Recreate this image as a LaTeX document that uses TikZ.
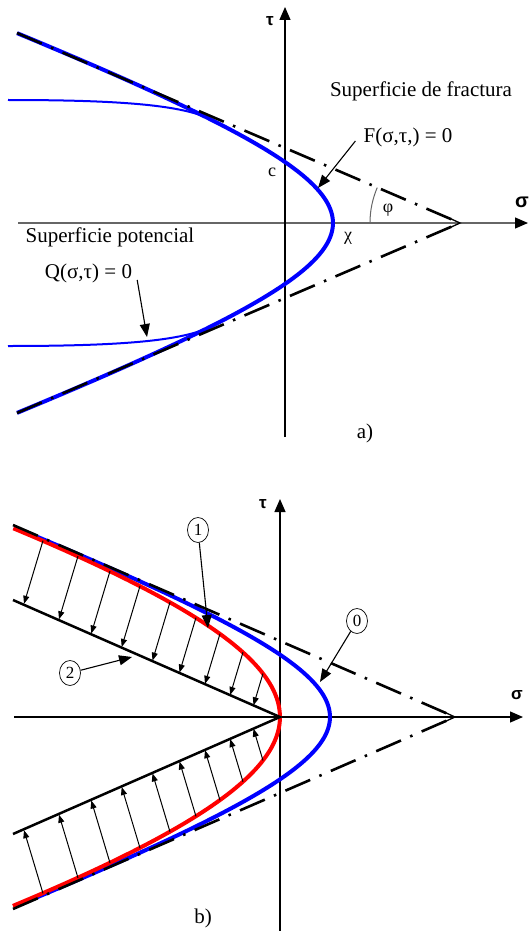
\documentclass[tikz,border=0pt]{standalone}
\usepackage{fontspec}
\setmainfont{Liberation Serif}
\newfontfamily\lsans{Liberation Sans}
\usetikzlibrary{arrows.meta,shapes.geometric}
\begin{document}
\begin{tikzpicture}[x=1pt,y=-1pt,
  txt/.style={inner sep=0pt, font=\fontsize{21}{24}\selectfont},
  sml/.style={inner sep=0pt, font=\fontsize{18}{20}\selectfont},
  axl/.style={inner sep=0pt, font=\lsans\bfseries\fontsize{17}{20}\selectfont},
  axisline/.style={line width=1.2pt, -{Triangle[length=13pt,width=11pt,color=black]}},
  dashdot/.style={line width=2.6pt, dash pattern=on 27pt off 10pt on 2.5pt off 10pt},
  fcurve/.style={blue, line width=4pt},
  qcurve/.style={blue, line width=2pt},
  rcurve/.style={red, line width=4pt},
  ptr/.style={line width=1.1pt, -{Triangle[length=13pt,width=10pt]}},
  smallarr/.style={line width=1pt, -{Triangle[length=8pt,width=6pt]}},
  circ/.style={draw, ellipse, line width=0.7pt, minimum width=21pt, minimum height=25pt, inner sep=0pt, font=\fontsize{17}{20}\selectfont},
  apexmark/.style={line width=1.3pt},
]
\useasboundingbox (0,0) rectangle (530,931);

% ================= a) =================
\coordinate (aSl) at (18,223);
\coordinate (aSr) at (528,223);
\coordinate (aTb) at (285,437);
\coordinate (aTt) at (285,7);
\coordinate (aA) at (460,223);
\coordinate (aDu) at (17,33);
\coordinate (aDl) at (17,413);

\draw[axisline, black!60] (aSl) -- (aSr);
\draw[axisline] (aTb) -- (aTt);

% fracture surface (hyperbola)
\draw[fcurve] plot[domain=-1.4356:1.4356, samples=121, smooth]
  ({592-259*(exp(\x)+exp(-\x))/2}, {223-95.8*(exp(\x)-exp(-\x))/2});
% potential surface branches
\draw[qcurve] (8,100) .. controls (110,100) and (180,104) .. (210,119.1);
\draw[qcurve] (8,346) .. controls (110,346) and (180,342) .. (210,326.9);

% asymptotes
\draw[dashdot] (aDu) -- (aA);
\draw[dashdot] (aDl) -- (aA);
\draw[apexmark] (448,217.5) -- (aA) -- (448,228.5);

% angle arc
\draw[black!60, line width=1pt] plot[domain=0:23.2, samples=20]
  ({460-90*cos(\x)},{223-90*sin(\x)});

\node[txt] (fract) at (421,91) {Superficie de fractura};
\node[txt] (Flab) at (408,137) {F(σ,τ,) = 0};
\coordinate (Ftip) at (318,188);
\draw[ptr] ([xshift=-8pt,yshift=-4pt]Flab.west) -- (Ftip);
\node[sml] (clab) at (272,172) {c};
\node[sml] (philab) at (388,210) {φ};
\node[sml] (chilab) at (348,238) {χ};
\node[axl, font=\lsans\bfseries\fontsize{20}{23}\selectfont] (asig) at (522,202) {σ};
\node[axl] (atau) at (270,21) {τ};
\node[txt] (potlab) at (110,237) {Superficie potencial};
\node[txt] (Qlab) at (88.5,273) {Q(σ,τ) = 0};
\coordinate (Qtip) at (147,337);
\draw[ptr] ([xshift=5pt,yshift=-7pt]Qlab.east) -- (Qtip);
\node[txt] (alab) at (365,433) {a)};

% ================= b) =================
\coordinate (bSl) at (14,717);
\coordinate (bSr) at (523,717);
\coordinate (bTb) at (280,931);
\coordinate (bTt) at (280,499);
\coordinate (bO) at (280,717);
\coordinate (bA) at (455,717);
\coordinate (bDu) at (13,525);
\coordinate (bDl) at (13,909);
\coordinate (bLu) at (13,600);
\coordinate (bLl) at (13,834);

\draw[axisline] (bSl) -- (bSr);
\draw[axisline] (bTb) -- (bTt);

\draw[fcurve] plot[domain=-1.4356:1.4356, samples=121, smooth]
  ({589-259*(exp(\x)+exp(-\x))/2}, {717-95.8*(exp(\x)-exp(-\x))/2});
\draw[rcurve] plot[domain=-0.904:0.904, samples=121, smooth]
  ({891-611*(exp(\x)+exp(-\x))/2}, {717-183*(exp(\x)-exp(-\x))/2});

\draw[dashdot] (bDu) -- (bA);
\draw[dashdot] (bDl) -- (bA);
\draw[apexmark] (443,711.5) -- (bA) -- (443,722.5);

\draw[line width=2.5pt] (bLu) -- (bO) -- (bLl);

% arrows from red curve to black lines
\foreach \xa/\ya/\xb/\yb in {43/540.6/24/603.8, 78/556.1/59/619.3, 110/571.1/91.3/633.5,
  140/586/121.7/647, 170/602.2/152.5/660.6, 196/617.6/179.5/672.5,
  220/633.8/205/683.8, 243/652.2/230.2/694.9, 263/673.5/253.5/705.3}{
  \draw[smallarr] (\xa,\ya) -- (\xb,\yb);
  \draw[smallarr] (\xa,1434-\ya) -- (\xb,1434-\yb);
}

\node[axl] (btau) at (263,504) {τ};
\node[axl] (bsig) at (517,695) {σ};

\node[circ] (c1) at (198,530) {1};
\coordinate (t1) at (208,628);
\draw[ptr] (c1) -- (t1);
\node[circ] (c0) at (357,621) {0};
\coordinate (t0) at (320,682);
\draw[ptr] (c0) -- (t0);
\node[circ] (c2) at (70,673) {2};
\coordinate (t2) at (132,657);
\draw[ptr] (c2) -- (t2);

\node[txt] (blab) at (203,918) {b)};
\end{tikzpicture}
\end{document}
